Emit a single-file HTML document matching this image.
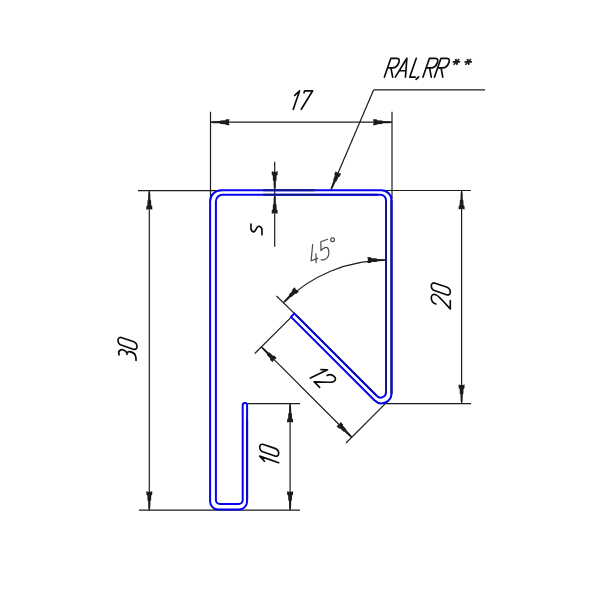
<!DOCTYPE html>
<html><head><meta charset="utf-8"><title>Profile</title>
<style>html,body{margin:0;padding:0;background:#fff;width:600px;height:600px;overflow:hidden;font-family:"Liberation Sans",sans-serif}svg{display:block}</style>
</head><body><svg width="600" height="600" viewBox="0 0 600 600"><rect width="600" height="600" fill="#fff"/><line x1="210.5" y1="111.7" x2="210.5" y2="200" stroke="#1c1c1c" stroke-width="1.2"/><line x1="392" y1="111.7" x2="392" y2="199" stroke="#1c1c1c" stroke-width="1.2"/><line x1="210.5" y1="122.2" x2="392" y2="122.2" stroke="#1c1c1c" stroke-width="1.2"/><path d="M210.8,121.85 L213.3,121.25 L219.8,121.05 L220.4,120.4 L225.3,120.25 L225.9,119.3 L229.5,119.2 L228.8,122.2 L229.5,125.2 L225.9,125.1 L225.3,124.15 L220.4,124 L219.8,123.35 L213.3,123.15 L210.8,122.55 Z" fill="#1c1c1c"/><path d="M391.7,122.55 L389.2,123.15 L382.7,123.35 L382.1,124 L377.2,124.15 L376.6,125.1 L373,125.2 L373.7,122.2 L373,119.2 L376.6,119.3 L377.2,120.25 L382.1,120.4 L382.7,121.05 L389.2,121.25 L391.7,121.85 Z" fill="#1c1c1c"/><line x1="138" y1="190.7" x2="222" y2="190.7" stroke="#1c1c1c" stroke-width="1.2"/><line x1="139" y1="510.2" x2="300" y2="510.2" stroke="#1c1c1c" stroke-width="1.2"/><line x1="149.3" y1="190.7" x2="149.3" y2="510.2" stroke="#1c1c1c" stroke-width="1.2"/><path d="M149.65,191 L150.25,193.5 L150.45,200 L151.1,200.6 L151.25,205.5 L152.2,206.1 L152.3,209.7 L149.3,209 L146.3,209.7 L146.4,206.1 L147.35,205.5 L147.5,200.6 L148.15,200 L148.35,193.5 L148.95,191 Z" fill="#1c1c1c"/><path d="M148.95,509.9 L148.35,507.4 L148.15,500.9 L147.5,500.3 L147.35,495.4 L146.4,494.8 L146.3,491.2 L149.3,491.9 L152.3,491.2 L152.2,494.8 L151.25,495.4 L151.1,500.3 L150.45,500.9 L150.25,507.4 L149.65,509.9 Z" fill="#1c1c1c"/><line x1="381" y1="190.5" x2="471" y2="190.5" stroke="#1c1c1c" stroke-width="1.2"/><line x1="386" y1="403.6" x2="471" y2="403.6" stroke="#1c1c1c" stroke-width="1.2"/><line x1="461.6" y1="190.5" x2="461.6" y2="403.6" stroke="#1c1c1c" stroke-width="1.2"/><path d="M461.95,190.8 L462.55,193.3 L462.75,199.8 L463.4,200.4 L463.55,205.3 L464.5,205.9 L464.6,209.5 L461.6,208.8 L458.6,209.5 L458.7,205.9 L459.65,205.3 L459.8,200.4 L460.45,199.8 L460.65,193.3 L461.25,190.8 Z" fill="#1c1c1c"/><path d="M461.25,403.3 L460.65,400.8 L460.45,394.3 L459.8,393.7 L459.65,388.8 L458.7,388.2 L458.6,384.6 L461.6,385.3 L464.6,384.6 L464.5,388.2 L463.55,388.8 L463.4,393.7 L462.75,394.3 L462.55,400.8 L461.95,403.3 Z" fill="#1c1c1c"/><line x1="247.5" y1="403.6" x2="300" y2="403.6" stroke="#1c1c1c" stroke-width="1.2"/><line x1="290.1" y1="403.6" x2="290.1" y2="510.2" stroke="#1c1c1c" stroke-width="1.2"/><path d="M290.45,403.9 L291.05,406.4 L291.25,412.9 L291.9,413.5 L292.05,418.4 L293,419 L293.1,422.6 L290.1,421.9 L287.1,422.6 L287.2,419 L288.15,418.4 L288.3,413.5 L288.95,412.9 L289.15,406.4 L289.75,403.9 Z" fill="#1c1c1c"/><path d="M289.75,509.9 L289.15,507.4 L288.95,500.9 L288.3,500.3 L288.15,495.4 L287.2,494.8 L287.1,491.2 L290.1,491.9 L293.1,491.2 L293,494.8 L292.05,495.4 L291.9,500.3 L291.25,500.9 L291.05,507.4 L290.45,509.9 Z" fill="#1c1c1c"/><line x1="274.7" y1="161.7" x2="274.7" y2="246.7" stroke="#1c1c1c" stroke-width="1.2"/><path d="M274.35,190 L273.75,187.5 L273.55,181 L272.9,180.4 L272.75,175.5 L271.8,174.9 L271.7,171.3 L274.7,172 L277.7,171.3 L277.6,174.9 L276.65,175.5 L276.5,180.4 L275.85,181 L275.65,187.5 L275.05,190 Z" fill="#1c1c1c"/><path d="M275.05,195.1 L275.65,197.6 L275.85,204.1 L276.5,204.7 L276.65,209.6 L277.6,210.2 L277.7,213.8 L274.7,213.1 L271.7,213.8 L271.8,210.2 L272.75,209.6 L272.9,204.7 L273.55,204.1 L273.75,197.6 L274.35,195.1 Z" fill="#1c1c1c"/><line x1="276.5" y1="296" x2="294.3" y2="313.4" stroke="#1c1c1c" stroke-width="1.2"/><path d="M386,260.1 A145,145 0 0 0 283.47,302.57" fill="none" stroke="#1c1c1c" stroke-width="1.1"/><path d="M386,260.45 L383.5,261.05 L377,261.25 L376.4,261.9 L371.5,262.05 L370.9,263 L367.3,263.1 L368,260.1 L367.3,257.1 L370.9,257.2 L371.5,258.15 L376.4,258.3 L377,258.95 L383.5,259.15 L386,259.75 Z" fill="#1c1c1c"/><path d="M283.22,302.32 L284.57,300.13 L289.02,295.39 L288.98,294.51 L292.34,290.94 L292.1,289.84 L294.57,287.23 L296.2,289.84 L298.81,291.47 L296.2,293.94 L295.1,293.7 L291.53,297.05 L290.65,297.02 L285.91,301.47 L283.72,302.82 Z" fill="#1c1c1c"/><line x1="291" y1="317.3" x2="254.8" y2="353.5" stroke="#1c1c1c" stroke-width="1.2"/><line x1="388.6" y1="400.4" x2="346" y2="443" stroke="#1c1c1c" stroke-width="1.2"/><line x1="261.4" y1="346.9" x2="351.75" y2="437.25" stroke="#1c1c1c" stroke-width="1.2"/><path d="M261.65,346.65 L263.84,348 L268.58,352.45 L269.46,352.42 L273.03,355.77 L274.13,355.53 L276.74,358 L274.13,359.63 L272.5,362.24 L270.03,359.63 L270.27,358.53 L266.92,354.96 L266.95,354.08 L262.5,349.34 L261.15,347.15 Z" fill="#1c1c1c"/><path d="M351.5,437.5 L349.31,436.15 L344.57,431.7 L343.69,431.73 L340.12,428.38 L339.02,428.62 L336.41,426.15 L339.02,424.52 L340.65,421.91 L343.12,424.52 L342.88,425.62 L346.23,429.19 L346.2,430.07 L350.65,434.81 L352,437 Z" fill="#1c1c1c"/><line x1="373.6" y1="89.9" x2="485" y2="89.9" stroke="#1c1c1c" stroke-width="1.2"/><line x1="373.6" y1="89.9" x2="331" y2="189.6" stroke="#1c1c1c" stroke-width="1.2"/><path d="M330.68,189.46 L331.11,186.93 L333.48,180.87 L333.12,180.06 L334.9,175.5 L334.27,174.57 L335.59,171.23 L338.07,173.05 L341.11,173.58 L339.6,176.85 L338.49,177.03 L336.43,181.48 L335.59,181.78 L332.86,187.67 L331.32,189.74 Z" fill="#1c1c1c"/><path d="M247.1,405 L247.1,501.5 A8,8 0 0 1 239.1,509.5 L218.1,509.5 A8,8 0 0 1 210.1,501.5 L210.1,201.3 A11,11 0 0 1 221.1,190.3 L381.5,190.3 A10,10 0 0 1 391.5,200.3 L391.5,393.26 A10,10 0 0 1 374.43,400.33 L291,316.9 L294.3,313.4 L376.95,396.05 A5.3,5.3 0 0 0 386,392.3 L386,200.3 A5.5,5.5 0 0 0 380.5,194.8 L222.4,194.8 A6.5,6.5 0 0 0 215.9,201.3 L215.9,500 A4,4 0 0 0 219.9,504 L238.7,504 A4,4 0 0 0 242.7,500 L242.7,405 A2,2 0 0 1 244.7,403 L245.1,403 A2,2 0 0 1 247.1,405 Z" fill="none" stroke="#0404f0" stroke-width="2" stroke-linejoin="round"/><line x1="386" y1="201" x2="386" y2="393" stroke="#13138e" stroke-width="2.0"/><line x1="391.5" y1="200" x2="391.5" y2="394" stroke="#13138e" stroke-width="2.2"/><line x1="263" y1="190.3" x2="315" y2="190.3" stroke="#13138e" stroke-width="2.0"/><line x1="263" y1="194.8" x2="318" y2="194.8" stroke="#13138e" stroke-width="2.0"/><line x1="318" y1="194.8" x2="378" y2="194.8" stroke="#0a0ac0" stroke-width="2.0"/><line x1="247.1" y1="420" x2="247.1" y2="500" stroke="#0a0ac0" stroke-width="2.0"/><line x1="296" y1="315.1" x2="376" y2="395.1" stroke="#0a0ac0" stroke-width="2.0"/><title>RAL,RR**</title><g transform="translate(384.4,77.1) rotate(0)" fill="none" stroke="#0a0a0a" stroke-width="1.65" stroke-linecap="round" stroke-linejoin="round"><path transform="skewX(-19) scale(1.88)" vector-effect="non-scaling-stroke" d="M0,0 L0,-10 L3.1,-10 C4.4,-10 5,-9.2 5,-7.7 C5,-6 4,-4.9 2.6,-4.9 L0,-4.9 M1.8,-4.9 L4.4,0"/></g><g transform="translate(395.3,77.1) rotate(0)" fill="none" stroke="#0a0a0a" stroke-width="1.65" stroke-linecap="round" stroke-linejoin="round"><path transform="skewX(-19) scale(1.88)" vector-effect="non-scaling-stroke" d="M0,0 L2.7,-10 L5.4,0 M1,-3.4 L4.4,-3.4"/></g><g transform="translate(409.8,77.1) rotate(0)" fill="none" stroke="#0a0a0a" stroke-width="1.65" stroke-linecap="round" stroke-linejoin="round"><path transform="skewX(-19) scale(1.88)" vector-effect="non-scaling-stroke" d="M0,-10 L0,0 L2.9,0"/></g><g transform="translate(417.8,77.1) rotate(0)" fill="none" stroke="#0a0a0a" stroke-width="1.65" stroke-linecap="round" stroke-linejoin="round"><path transform="skewX(-19) scale(1.88)" vector-effect="non-scaling-stroke" d="M0.4,-0.1 L-0.5,1.2"/></g><g transform="translate(423,77.1) rotate(0)" fill="none" stroke="#0a0a0a" stroke-width="1.65" stroke-linecap="round" stroke-linejoin="round"><path transform="skewX(-19) scale(1.88)" vector-effect="non-scaling-stroke" d="M0,0 L0,-10 L3.1,-10 C4.4,-10 5,-9.2 5,-7.7 C5,-6 4,-4.9 2.6,-4.9 L0,-4.9 M1.8,-4.9 L4.4,0"/></g><g transform="translate(434.5,77.1) rotate(0)" fill="none" stroke="#0a0a0a" stroke-width="1.65" stroke-linecap="round" stroke-linejoin="round"><path transform="skewX(-19) scale(1.88)" vector-effect="non-scaling-stroke" d="M0,0 L0,-10 L3.1,-10 C4.4,-10 5,-9.2 5,-7.7 C5,-6 4,-4.9 2.6,-4.9 L0,-4.9 M1.8,-4.9 L4.4,0"/></g><g transform="translate(456.4,61.8) skewX(-19)"><line x1="-3.7" y1="-0" x2="3.7" y2="0" stroke="#1c1c1c" stroke-width="1.7"/><line x1="-1.85" y1="-2.88" x2="1.85" y2="2.88" stroke="#1c1c1c" stroke-width="1.7"/><line x1="1.85" y1="-2.88" x2="-1.85" y2="2.88" stroke="#1c1c1c" stroke-width="1.7"/></g><g transform="translate(468.2,61.8) skewX(-19)"><line x1="-3.7" y1="-0" x2="3.7" y2="0" stroke="#1c1c1c" stroke-width="1.7"/><line x1="-1.85" y1="-2.88" x2="1.85" y2="2.88" stroke="#1c1c1c" stroke-width="1.7"/><line x1="1.85" y1="-2.88" x2="-1.85" y2="2.88" stroke="#1c1c1c" stroke-width="1.7"/></g><title>17</title><g transform="translate(288.07,109.3) rotate(0)" fill="none" stroke="#0a0a0a" stroke-width="1.65" stroke-linecap="round" stroke-linejoin="round"><path transform="skewX(-19) scale(1.85)" vector-effect="non-scaling-stroke" d="M1.0,-7.5 L2.8,-10 L2.8,0"/></g><g transform="translate(298.34,109.3) rotate(0)" fill="none" stroke="#0a0a0a" stroke-width="1.65" stroke-linecap="round" stroke-linejoin="round"><path transform="skewX(-19) scale(1.85)" vector-effect="non-scaling-stroke" d="M0,-8.9 L0,-10 L4.3,-10 L1.6,0"/></g><g transform="translate(137,361) rotate(-90)" fill="none" stroke="#0a0a0a" stroke-width="1.65" stroke-linecap="round" stroke-linejoin="round"><title>30</title><path transform="translate(0,0) skewX(-19) scale(1.9)" vector-effect="non-scaling-stroke" d="M0,-9.4 C0.8,-9.8 1.8,-9.7 2.6,-8.9 C3.2,-8.3 3.4,-7.9 3.4,-7.4 C3.4,-6.3 3,-5.6 2.4,-5.3 L1.6,-5.3 M2.4,-5.3 C3.2,-4.9 3.7,-4.1 3.7,-3.2 C3.7,-1.8 3.2,-1 2.5,-0.8 C1.7,-0.5 0.8,-0.5 0.1,-0.5"/><path transform="translate(10.5,0) skewX(-19) scale(1.9)" vector-effect="non-scaling-stroke" d="M0,-8 A2,2 0 0 1 4,-8 L4,-2 A2,2 0 0 1 0,-2 Z"/></g><g transform="translate(450.3,309) rotate(-90)" fill="none" stroke="#0a0a0a" stroke-width="1.65" stroke-linecap="round" stroke-linejoin="round"><title>20</title><path transform="translate(0,0) skewX(-19) scale(1.9)" vector-effect="non-scaling-stroke" d="M0,-7.6 C0,-9.1 1.1,-10 2.5,-10 C3.9,-10 4.9,-9.1 4.9,-7.6 C4.9,-6.3 4.1,-5.3 0,0 L4.4,0"/><path transform="translate(13,0) skewX(-19) scale(1.9)" vector-effect="non-scaling-stroke" d="M0,-8 A2,2 0 0 1 4,-8 L4,-2 A2,2 0 0 1 0,-2 Z"/></g><g transform="translate(278.7,468) rotate(-90)" fill="none" stroke="#0a0a0a" stroke-width="1.65" stroke-linecap="round" stroke-linejoin="round"><title>10</title><path transform="translate(0,0) skewX(-19) scale(1.9)" vector-effect="non-scaling-stroke" d="M1.0,-7.5 L2.8,-10 L2.8,0"/><path transform="translate(10.7,0) skewX(-19) scale(1.9)" vector-effect="non-scaling-stroke" d="M0,-8 A2,2 0 0 1 4,-8 L4,-2 A2,2 0 0 1 0,-2 Z"/></g><g transform="translate(262,235) rotate(-90)" fill="none" stroke="#0a0a0a" stroke-width="1.65" stroke-linecap="round" stroke-linejoin="round"><title>s</title><path transform="translate(0,0) skewX(-19) scale(1.9)" vector-effect="non-scaling-stroke" d="M3.8,-5.8 L1.4,-5.8 C0.6,-5.8 0.1,-5.3 0.1,-4.5 C0.1,-3.2 4.1,-3.1 4.1,-1.4 C4.1,-0.5 3.5,0 2.6,0 L0.1,0"/></g><g transform="translate(311.2,264.4) rotate(-20)" fill="none" stroke="#4a4a4a" stroke-width="1.2" stroke-linecap="round" stroke-linejoin="round"><title>45</title><path transform="translate(0,0) skewX(-19) scale(1.8)" vector-effect="non-scaling-stroke" d="M1.05,-10 L0,-1.9 L3.9,-1.9 M2.9,-4.6 L2.9,0"/><path transform="translate(10.6,0) skewX(-19) scale(1.8)" vector-effect="non-scaling-stroke" d="M4,-10 L0,-10 L0,-5.3 C0.8,-5.9 1.6,-6.1 2.4,-6.1 C3.8,-6.1 4.6,-4.9 4.6,-3.1 C4.6,-1.1 3.6,0 2.2,0 C1.2,0 0.5,-0.2 0,-0.5"/></g><circle cx="332.6" cy="239.8" r="1.9" fill="none" stroke="#4a4a4a" stroke-width="1.2"/><g transform="translate(306.84,374.54) rotate(45)" fill="none" stroke="#0a0a0a" stroke-width="1.65" stroke-linecap="round" stroke-linejoin="round"><title>12</title><path transform="translate(0,0) skewX(-19) scale(1.8)" vector-effect="non-scaling-stroke" d="M1.0,-7.5 L2.8,-10 L2.8,0"/><path transform="translate(10.2,0) skewX(-19) scale(1.8)" vector-effect="non-scaling-stroke" d="M0,-7.6 C0,-9.1 1.1,-10 2.5,-10 C3.9,-10 4.9,-9.1 4.9,-7.6 C4.9,-6.3 4.1,-5.3 0,0 L4.4,0"/></g></svg></body></html>
